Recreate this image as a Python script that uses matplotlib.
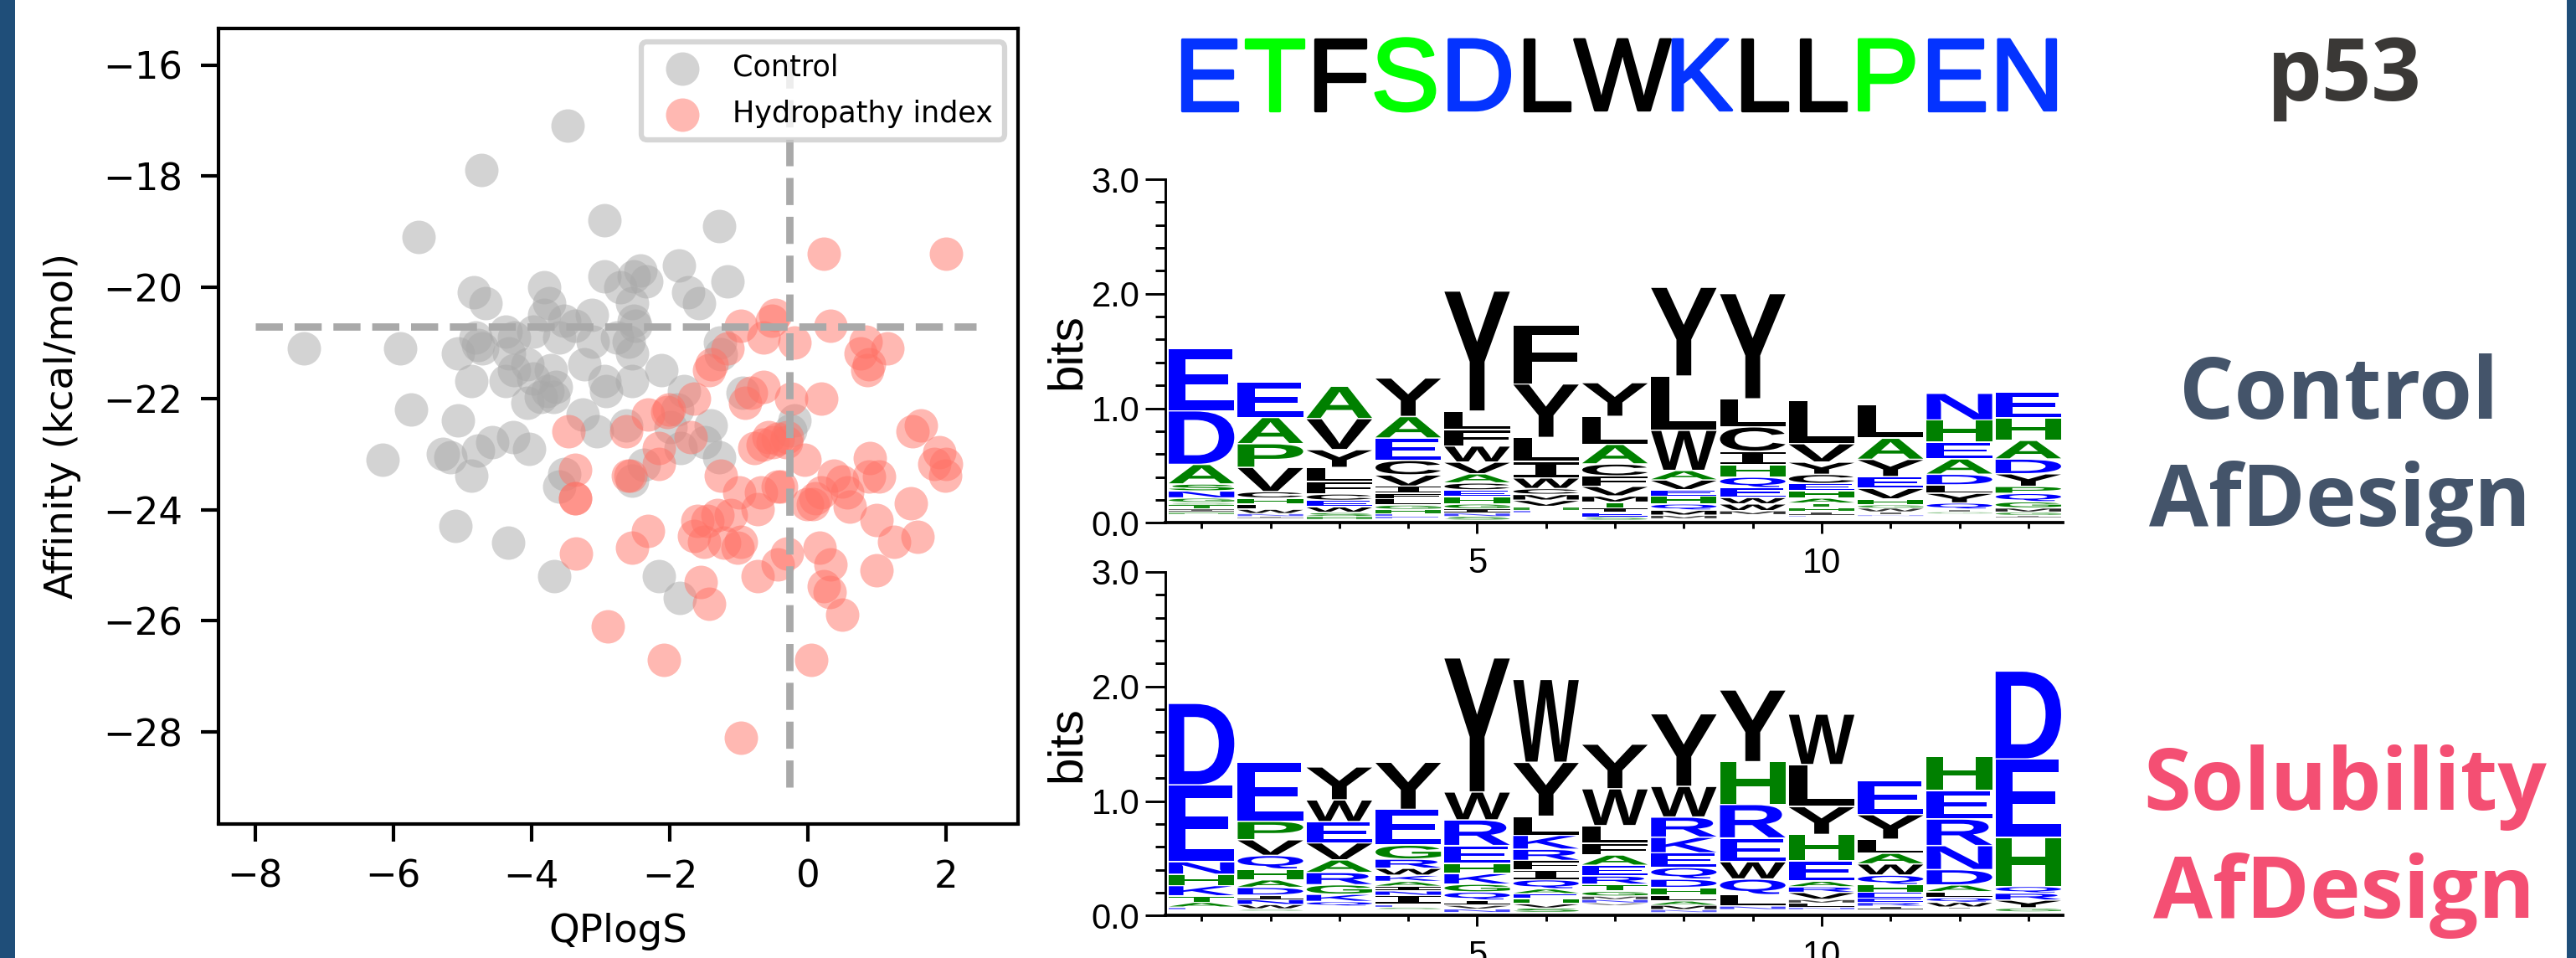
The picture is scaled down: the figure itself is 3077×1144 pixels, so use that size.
import matplotlib
matplotlib.use("Agg")
import matplotlib.pyplot as plt
import matplotlib.patheffects as pe
from matplotlib.font_manager import FontProperties
from matplotlib.patches import PathPatch, Rectangle
from matplotlib.text import TextPath
from matplotlib.transforms import Affine2D
from matplotlib.ticker import MultipleLocator

W, H, DPI = 3077, 1144, 300

control_qplogs = [-7.29,-5.90,-5.63,-4.72,-3.48,-2.95,-1.28,-6.15,-5.74,-5.06,-5.28,-5.17,-4.87,-4.77,-4.57,-4.26,-4.03,-5.10,-4.34,-3.67,-2.16,-1.85,-4.84,-4.67,-3.82,-3.74,-3.82,-3.53,-3.37,-3.13,-2.95,-2.71,-2.52,-2.42,-2.34,-1.87,-1.73,-1.58,-1.16,-2.55,-2.52,-2.50,-2.76,-2.59,-2.55,-3.12,-3.24,-2.95,-2.92,-2.55,-2.12,-1.79,-1.27,-1.26,-4.81,-4.78,-5.06,-4.71,-4.38,-4.25,-4.33,-4.25,-4.38,-4.87,-3.97,-3.60,-4.06,-3.97,-3.72,-3.65,-3.77,-3.87,-4.06,-3.68,-3.26,-3.05,-2.63,-1.84,-1.41,-1.49,-1.29,-2.37,-2.54,-1.99,-3.53,-3.60,-0.95,-0.20,-0.25,-1.89]
control_affinity = [-21.09,-21.09,-19.09,-17.89,-17.09,-18.79,-18.89,-23.10,-22.19,-22.39,-23.00,-23.05,-23.39,-22.94,-22.79,-22.70,-22.90,-24.29,-24.59,-25.20,-25.20,-25.59,-20.09,-20.29,-19.99,-20.29,-20.49,-20.60,-20.69,-20.49,-19.80,-19.99,-19.80,-19.70,-19.89,-19.60,-20.09,-20.29,-19.89,-20.29,-20.60,-20.69,-20.90,-20.98,-21.19,-20.98,-21.39,-21.69,-21.86,-21.69,-21.49,-21.86,-20.99,-21.20,-20.90,-21.04,-21.19,-21.09,-20.80,-20.90,-21.19,-21.49,-21.69,-21.69,-20.80,-20.90,-21.39,-21.64,-21.49,-21.79,-21.86,-21.97,-22.08,-21.97,-22.29,-22.59,-22.49,-22.89,-22.49,-22.79,-23.05,-23.19,-23.48,-22.52,-23.36,-23.59,-21.89,-22.39,-22.58,-22.19]

hydropathy_qplogs = [0.23,2.00,-0.47,-0.52,-0.97,0.33,-0.64,-0.20,-1.16,0.84,1.15,0.76,0.88,0.86,-1.40,-1.43,-0.64,-0.83,-1.65,-0.91,-0.24,0.19,-2.01,-2.04,-2.32,-3.46,-2.63,-1.70,1.63,1.51,-0.57,-0.30,-0.78,-0.66,-0.51,-0.44,-0.32,-2.16,-2.16,-0.05,0.89,1.90,1.83,2.00,1.99,0.88,1.03,-3.37,-2.61,-2.57,-1.26,0.38,0.49,-0.99,-0.68,-0.44,-0.39,0.19,0.57,0.61,0.11,-0.01,0.07,1.49,0.99,-3.37,-3.37,-1.60,-1.46,-1.31,-1.12,-0.73,-1.65,-1.50,-2.32,-2.54,-1.21,-0.97,-1.02,1.25,1.59,-0.30,0.17,0.33,-3.36,-0.44,-0.73,0.99,0.23,0.32,-1.55,-1.43,0.49,-2.90,-2.08,0.05,-0.97]
hydropathy_affinity = [-19.39,-19.39,-20.49,-20.60,-20.69,-20.69,-20.90,-20.99,-21.09,-20.98,-21.09,-21.19,-21.39,-21.49,-21.39,-21.49,-21.79,-21.89,-22.00,-22.08,-22.00,-22.00,-22.19,-22.24,-22.29,-22.59,-22.59,-22.69,-22.49,-22.59,-22.69,-22.69,-22.89,-22.83,-22.79,-22.72,-22.79,-22.89,-23.18,-23.10,-23.07,-22.96,-23.18,-23.18,-23.39,-23.40,-23.40,-23.29,-23.39,-23.39,-23.39,-23.39,-23.49,-23.69,-23.69,-23.59,-23.59,-23.69,-23.69,-23.95,-23.79,-23.90,-23.90,-23.89,-24.18,-23.79,-23.79,-24.20,-24.20,-24.09,-24.10,-23.99,-24.48,-24.58,-24.39,-24.69,-24.59,-24.58,-24.69,-24.58,-24.49,-24.79,-24.69,-24.99,-24.79,-24.99,-25.19,-25.09,-25.38,-25.48,-25.30,-25.69,-25.89,-26.10,-26.71,-26.71,-28.10]

threshold_qplogs = -0.27
threshold_affinity = -20.7

sequence = "ETFSDLWKLLPEN"
residue_class = dict(zip("ACDEFGHIKLMNPQRSTVWY", "gkbbkggkbkkbgbbggkkk"))
title_colors = {"b": "#0433ff", "g": "#00ff00", "k": "#000000"}
logo_colors = {"b": "#0000ff", "g": "#008000", "k": "#000000"}

# Logo stacks: letters listed from top of stack to bottom, heights in bits.
control_letters = ["EDASNGSTIH","EAPVCHLWNI","AVYLFCEWSH","YAECVIFLGHEE","YLFWVACEHGINS","FYLIWCMVHE","YLACFVMTIES","YLWAVEHQMM","YLCIHQEWWM","LVYCEHATHIE","LAYEVHGWIN","NHEADLYQIG","EHADYPQGMGI"]
control_heights = [
    [.544,.468,.171,.061,.061,.037,.02,.037,.024,.02],
    [.307,.229,.207,.212,.056,.051,.046,.037,.024,.015],
    [.283,.271,.156,.124,.107,.056,.056,.049,.034,.027],
    [.337,.188,.195,.127,.098,.061,.049,.054,.037,.037,.024,.02],
    [1.049,.163,.141,.141,.102,.08,.061,.059,.063,.041,.037,.029,.032],
    [.512,.468,.207,.146,.093,.051,.051,.054,.032,.02],
    [.295,.244,.171,.105,.09,.085,.054,.049,.039,.039,.027],
    [.776,.473,.351,.083,.085,.056,.068,.054,.044,.029],
    [.92,.244,.215,.117,.107,.093,.085,.056,.059,.032],
    [.376,.161,.107,.08,.061,.066,.044,.037,.037,.029,.012],
    [.293,.185,.151,.102,.093,.049,.029,.032,.024,.012],
    [.234,.195,.144,.134,.093,.073,.085,.054,.02,.017],
    [.227,.195,.163,.129,.11,.061,.073,.054,.034,.029,.017],
]
control_floor = [.073,.037,.024,.032,.02,.085,.02,.032,.068,.051,.056,.076,.044]

solubility_letters = ["DENHKTAE","EPVQHADINWS","YWEVARGKQ","YEGRWKAINIES","YWREHKGQIVN","WYLKRFIQAEHVS","YWLFAERTGMNV","YWRKEQDHLAMN","YHREWQLN","WLYHEARVMLN","EYLAWQHEERI","HERNDALQWI","DEHQRYG"]
solubility_heights = [
    [.712,.671,.11,.098,.09,.056,.041,.02],
    [.515,.161,.137,.12,.093,.066,.068,.037,.044,.037,.017],
    [.288,.19,.185,.149,.11,.107,.083,.063,.039],
    [.412,.312,.122,.08,.061,.054,.041,.041,.039,.078,.024,.02],
    [1.171,.244,.224,.156,.088,.093,.068,.071,.044,.032,.029],
    [.724,.471,.166,.122,.098,.083,.085,.08,.041,.044,.044,.037,.037],
    [.39,.322,.154,.102,.09,.093,.073,.061,.041,.029,.029,.022],
    [.634,.268,.176,.137,.127,.102,.073,.068,.049,.037,.037,.024],
    [.627,.373,.293,.207,.151,.137,.098,.029],
    [.441,.366,.244,.232,.176,.049,.049,.061,.029,.037,.02],
    [.298,.215,.122,.093,.098,.083,.068,.049,.037,.032,.029],
    [.298,.249,.232,.21,.134,.059,.051,.041,.041,.015],
    [.768,.683,.429,.059,.061,.068,.032],
]
solubility_floor = [.049,.037,.078,.049,.024,.024,.085,.024,.049,.049,.049,.054,.029]

fig = plt.figure(figsize=(W / DPI, H / DPI), dpi=DPI, facecolor="white")


def px_axes(left, top, right, bottom):
    return fig.add_axes([left / W, 1 - bottom / H, (right - left) / W, (bottom - top) / H])


def fx(x):
    return x / W


def fy(y):
    return 1 - y / H


# Side bars
for x0, x1 in ((0, 18), (3066, 3077)):
    fig.add_artist(Rectangle((fx(x0), 0), (x1 - x0) / W, 1, transform=fig.transFigure,
                             facecolor="#1f4e79", edgecolor="none"))

# Scatter
ax = px_axes(261, 34, 1216, 983.5)
ax.scatter(control_qplogs, control_affinity, s=92, color="#a9a9a9", alpha=0.5,
           linewidths=0, label="Control", zorder=2)
ax.scatter(hydropathy_qplogs, hydropathy_affinity, s=92, color="#ff7266", alpha=0.5,
           linewidths=0, label="Hydropathy index", zorder=3)
ax.hlines(threshold_affinity, -8, 2.43, colors="#a9a9a9", linestyles="--", lw=2.1, zorder=4)
ax.vlines(threshold_qplogs, -29, -15.75, colors="#a9a9a9", linestyles="--", lw=2.1, zorder=4)
ax.set_xlim(-8.53, 3.04)
ax.set_ylim(-29.65, -15.34)
ax.set_xticks([-8, -6, -4, -2, 0, 2])
ax.set_yticks([-16, -18, -20, -22, -24, -26, -28])
ax.tick_params(labelsize=10.8, length=5, width=1, pad=5.2)
ax.set_xlabel("QPlogS", fontsize=11.2, labelpad=5)
ax.set_ylabel("Affinity (kcal/mol)", fontsize=11.2, labelpad=6.3)
for s in ax.spines.values():
    s.set_linewidth(1)
leg = ax.legend(loc="upper right", fontsize=8.4, frameon=True, framealpha=0.8, edgecolor="0.8",
                borderaxespad=0.45, labelspacing=0.6, handletextpad=0.72)
leg.get_frame().set_linewidth(1.5)
leg.set_zorder(5)

# Sequence logos
glyph_font = FontProperties(family="Liberation Sans", weight="bold")
serif_i_font = FontProperties(family="Liberation Mono", weight="bold")


def draw_logo(axis, letters, heights, floors):
    for pos, (word, hs, base) in enumerate(zip(letters, heights, floors), start=1):
        y = base
        for letter, h in zip(reversed(word), reversed(hs)):
            font = serif_i_font if letter == "I" else glyph_font
            tp = TextPath((0, 0), letter, size=1, prop=font)
            bb = tp.get_extents()
            gap = min(0.012, h * 0.25)
            tr = (Affine2D().translate(-bb.x0, -bb.y0)
                  .scale(0.95 / bb.width, (h - gap) / bb.height)
                  .translate(pos - 0.475, y + gap))
            axis.add_patch(PathPatch(tp, transform=tr + axis.transData,
                                     facecolor=logo_colors[residue_class[letter]],
                                     edgecolor="none", lw=0, alpha=min(1.0, h / 0.04)))
            y += h
    axis.set_xlim(0.47, 13.5)
    axis.set_ylim(0, 3)
    axis.spines["top"].set_visible(False)
    axis.spines["right"].set_visible(False)
    axis.spines["left"].set_linewidth(0.7)
    axis.spines["bottom"].set_linewidth(0.9)
    axis.xaxis.set_major_locator(MultipleLocator(5))
    axis.xaxis.set_minor_locator(MultipleLocator(1))
    axis.yaxis.set_major_locator(MultipleLocator(1))
    axis.yaxis.set_minor_locator(MultipleLocator(0.2))
    axis.yaxis.set_major_formatter("{x:.1f}")
    axis.tick_params(axis="y", which="major", length=5.8, width=0.7, pad=1.4)
    axis.tick_params(axis="y", which="minor", length=3, width=0.7)
    axis.tick_params(axis="x", which="major", length=3.2, width=0.7, pad=3.6)
    axis.tick_params(axis="x", which="minor", length=1.7, width=0.7)
    for lab in axis.get_xticklabels() + axis.get_yticklabels():
        lab.set_fontfamily("Liberation Sans")
        lab.set_fontsize(10)
    axis.set_ylabel("bits", fontfamily="Liberation Sans", fontsize=14)
    axis.yaxis.set_label_coords(-0.084, 0.5)
    axis.patch.set_alpha(0)


ax_control = px_axes(1391.6, 214, 2464, 624.3)
draw_logo(ax_control, control_letters, control_heights, control_floor)
ax_solubility = px_axes(1391.6, 683, 2464, 1093.3)
draw_logo(ax_solubility, solubility_letters, solubility_heights, solubility_floor)

# Coloured sequence title, one text per letter, spaced by true glyph advances
renderer = fig.canvas.get_renderer()
seq_font = FontProperties(family="Liberation Sans", size=29.4)
ref_width = renderer.get_text_width_height_descent("H", seq_font, False)[0]
tracking = 1.5
for i, letter in enumerate(sequence):
    adv = renderer.get_text_width_height_descent(sequence[:i] + "H", seq_font, False)[0] - ref_width
    color = title_colors[residue_class[letter]]
    t = fig.text(fx(1402 + adv + tracking * i), fy(131.5), letter, color=color,
                 fontproperties=seq_font, ha="left", va="baseline")
    t.set_path_effects([pe.withStroke(linewidth=0.8, foreground=color)])

# Right-hand captions
caption_font = dict(family="Open Sans", weight="bold", ha="center", va="baseline")
fig.text(fx(2800), fy(120), "p53", color="#3a3836", fontsize=25, **caption_font)
fig.text(fx(2794), fy(500), "Control", color="#44546a", fontsize=24.7, **caption_font)
fig.text(fx(2795), fy(628), "AfDesign", color="#44546a", fontsize=24.7, **caption_font)
fig.text(fx(2801), fy(967), "Solubility", color="#f44f73", fontsize=24.7, **caption_font)
fig.text(fx(2800), fy(1096), "AfDesign", color="#f44f73", fontsize=24.7, **caption_font)

fig.savefig("out.png", dpi=DPI, facecolor="white")
